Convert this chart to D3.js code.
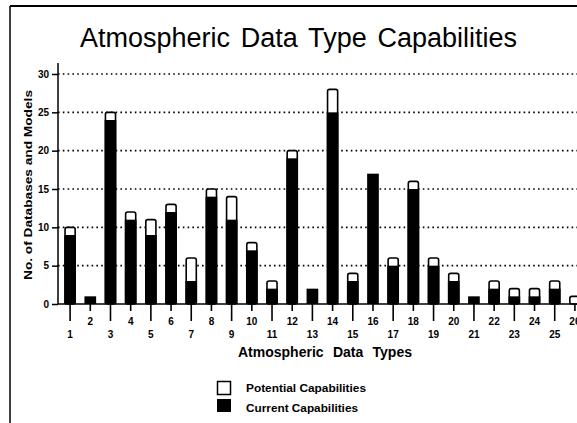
<!DOCTYPE html>
<html><head><meta charset="utf-8">
<script src="https://cdn.jsdelivr.net/npm/d3@7"></script>
<style>
html,body{margin:0;padding:0;background:#fff;}
svg{display:block;font-family:"Liberation Sans",Arial,sans-serif;}
</style></head>
<body>
<svg id="chart" width="577" height="423"></svg>
<script>
// Data
const types = [1,2,3,4,5,6,7,8,9,10,11,12,13,14,15,16,17,18,19,20,21,22,23,24,25,26];
const current   = [9,1,24,11,9,12,3,14,11,7,2,19,2,25,3,17,5,15,5,3,1,2,1,1,2,0];
const potential = [10,1,25,12,11,13,6,15,14,8,3,20,2,28,4,17,6,16,6,4,1,3,2,2,3,1];
const yTicks = [0,5,10,15,20,25,30];
const legendLabels = ["Potential Capabilities","Current Capabilities"];
const titleText = "Atmospheric Data Type Capabilities";
const xTitle = "Atmospheric Data Types";
const yTitle = "No. of Databases and Models";

const svg = d3.select("#chart");
const W = 577, H = 423;
const x = d3.scaleBand().domain(types).range([60,585]).paddingInner(0.5).paddingOuter(0.25);
const y = d3.scaleLinear().domain([0,30]).range([304,74]);

// frame
svg.append("line").attr("x1",10).attr("x2",10).attr("y1",6).attr("y2",H).attr("stroke","#000").attr("stroke-width",1.5);
svg.append("line").attr("x1",10).attr("x2",W).attr("y1",6).attr("y2",6).attr("stroke","#000").attr("stroke-width",2);

// title
const t = svg.append("text").attr("x",298.5).attr("y",47).attr("text-anchor","middle")
  .attr("font-size",27).attr("fill","#000").text(titleText);
{
  const len = t.node().getComputedTextLength();
  const ws = Math.max(0,(437 - len)/3);
  t.attr("word-spacing", ws);
}

// gridlines
svg.append("g").selectAll("line").data(yTicks.filter(d=>d>0)).join("line")
  .attr("x1",58).attr("x2",W).attr("y1",d=>y(d)).attr("y2",d=>y(d))
  .attr("stroke","#000").attr("stroke-width",1.6).attr("stroke-dasharray","1.6,3.2");

// bars
const data = types.map((d,i)=>({t:d,c:current[i],p:potential[i]}));
const bars = svg.append("g");
bars.selectAll("rect.pot").data(data.filter(d=>d.p>d.c)).join("rect").attr("class","pot")
  .attr("x",d=>x(d.t)).attr("width",x.bandwidth())
  .attr("y",d=>y(d.p)).attr("height",d=>y(0)-y(d.p))
  .attr("rx",2).attr("fill","#fff").attr("stroke","#000").attr("stroke-width",1.6);
bars.selectAll("rect.cur").data(data.filter(d=>d.c>0)).join("rect").attr("class","cur")
  .attr("x",d=>x(d.t)-0.8).attr("width",x.bandwidth()+1.6)
  .attr("y",d=>y(d.c)).attr("height",d=>y(0)-y(d.c))
  .attr("fill","#000");

// y axis
const ya = svg.append("g").attr("transform","translate(58,0)")
  .call(d3.axisLeft(y).tickValues(yTicks).tickSize(6).tickPadding(3));
ya.select(".domain").remove();
ya.selectAll("line").attr("stroke","#000").attr("stroke-width",1.5);
ya.selectAll("text").attr("font-size",10).attr("font-weight","bold").attr("fill","#000").attr("font-family","Liberation Sans, Arial, sans-serif");
svg.append("line").attr("x1",58).attr("x2",58).attr("y1",63).attr("y2",304).attr("stroke","#000").attr("stroke-width",1.5);

// x axis baseline
svg.append("line").attr("x1",58).attr("x2",W).attr("y1",304).attr("y2",304).attr("stroke","#000").attr("stroke-width",1.6);

// x ticks: odd long, even short
const odd = types.filter(d=>d%2===1), even = types.filter(d=>d%2===0);
const xo = svg.append("g").attr("transform","translate(0,304)")
  .call(d3.axisBottom(x).tickValues(odd).tickSize(17).tickPadding(10));
const xe = svg.append("g").attr("transform","translate(0,304)")
  .call(d3.axisBottom(x).tickValues(even).tickSize(7).tickPadding(7));
[xo,xe].forEach(g=>{
  g.select(".domain").remove();
  g.selectAll("line").attr("stroke","#000").attr("stroke-width",1.6);
  g.selectAll("text").attr("font-size",10).attr("font-weight","bold").attr("fill","#000").attr("font-family","Liberation Sans, Arial, sans-serif");
});

// axis titles
const xt = svg.append("text").attr("x",325).attr("y",357).attr("text-anchor","middle")
  .attr("font-size",14).attr("font-weight","bold").text(xTitle);
{
  const len = xt.node().getComputedTextLength();
  xt.attr("word-spacing",Math.max(0,(174-len)/2));
}
svg.append("text").attr("transform","translate(32,185) rotate(-90)").attr("text-anchor","middle")
  .attr("font-size",10.5).attr("font-weight","bold").attr("textLength",190).attr("lengthAdjust","spacingAndGlyphs")
  .text(yTitle);

// legend
const lg = svg.append("g");
lg.append("rect").attr("x",217.5).attr("y",381.5).attr("width",13).attr("height",13)
  .attr("fill","#fff").attr("stroke","#000").attr("stroke-width",1.5);
lg.append("rect").attr("x",217).attr("y",399).attr("width",14).attr("height",13).attr("fill","#000");
lg.selectAll("text").data(legendLabels).join("text")
  .attr("x",246).attr("y",(d,i)=>i===0?392:412)
  .attr("font-size",10).attr("font-weight","bold")
  .attr("textLength",(d,i)=>i===0?120:112).attr("lengthAdjust","spacingAndGlyphs")
  .text(d=>d);
</script>
</body></html>
